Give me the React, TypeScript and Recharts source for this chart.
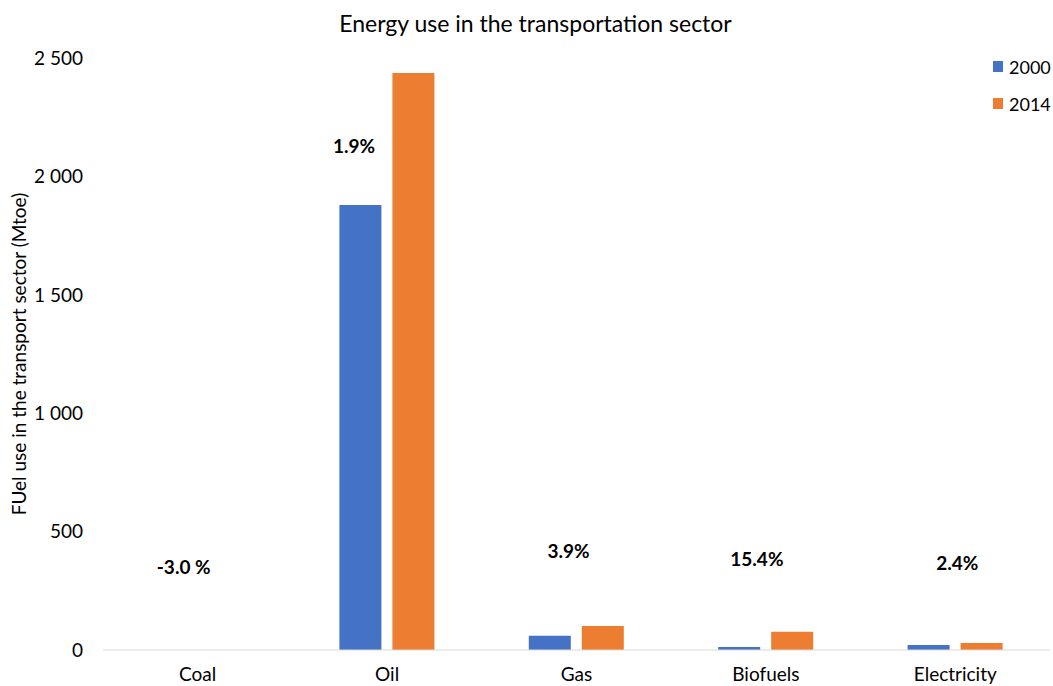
import React from "react";
import { BarChart, Bar, XAxis, YAxis, ReferenceDot, Label } from "recharts";

const categories = ["Coal", "Oil", "Gas", "Biofuels", "Electricity"];
const values2000 = [0, 1879, 60, 13, 21];
const values2014 = [0, 2437, 101, 77, 30];
const growthLabels = ["-3.0 %", "1.9%", "3.9%", "15.4%", "2.4%"];
const yTicks = [0, 500, 1000, 1500, 2000, 2500];

const data = categories.map((c, i) => ({ name: c, y2000: values2000[i], y2014: values2014[i] }));

// label anchors (layout only)
const labelY = [348, 2126, 418, 382, 367];
const labelDx = [-14, -33, -8, -9, 2];

const FONT = "Lato, 'Open Sans', sans-serif";

const fmt = (v: number) => String(v).replace(/\B(?=(\d{3})+(?!\d))/g, " ");

export default function App() {
  return (
    <div style={{ position: "fixed", left: 0, top: 0, width: 1053, height: 686, background: "#fff", fontFamily: FONT, overflow: "hidden" }}>
      <div
        style={{
          position: "absolute",
          top: 9,
          left: 0,
          width: 1053,
          paddingLeft: 18,
          boxSizing: "border-box",
          textAlign: "center",
          fontSize: 23,
          color: "#000",
          whiteSpace: "nowrap",
        }}
      >
        Energy use in the transportation sector
      </div>
      <div style={{ position: "absolute", left: 993, top: 48, width: 60, fontSize: 18, color: "#000", zIndex: 2, whiteSpace: "nowrap" }}>
        {[
          { label: "2000", color: "#4472C4" },
          { label: "2014", color: "#ED7D31" },
        ].map((it) => (
          <div key={it.label} style={{ display: "flex", alignItems: "center", height: 37 }}>
            <span style={{ width: 10, height: 11, background: it.color, display: "inline-block", marginRight: 6, flexShrink: 0 }} />
            <span>{it.label}</span>
          </div>
        ))}
      </div>
      <BarChart
        width={1053}
        height={686}
        data={data}
        margin={{ top: 58, right: 3, bottom: 0, left: 0 }}
        barCategoryGap={47}
        barGap={11}
      >
        <XAxis
          dataKey="name"
          height={36}
          tickLine={false}
          axisLine={{ stroke: "#d9d9d9" }}
          tick={{ fill: "#000", fontSize: 19, fontFamily: FONT }}
          tickMargin={12}
          interval={0}
        />
        <YAxis
          width={103}
          domain={[0, 2500]}
          ticks={yTicks}
          tickFormatter={fmt}
          axisLine={false}
          tickLine={false}
          tick={{ fill: "#000", fontSize: 19, fontFamily: FONT }}
          tickMargin={14}
        >
          <Label
            value="FUel use in the transport sector (Mtoe)"
            angle={-90}
            position="insideLeft"
            offset={19}
            style={{ fill: "#000", fontSize: 19, fontFamily: FONT, textAnchor: "middle" }}
          />
        </YAxis>
        <Bar dataKey="y2000" name="2000" fill="#4472C4" isAnimationActive={false} />
        <Bar dataKey="y2014" name="2014" fill="#ED7D31" isAnimationActive={false} />
        {categories.map((c, i) => (
          <ReferenceDot key={c} x={c} y={labelY[i]} r={0} stroke="none" fill="none" ifOverflow="visible">
            <Label
              value={growthLabels[i]}
              position="center"
              dx={labelDx[i]}
              style={{ fill: "#000", fontSize: 19, fontWeight: 700, fontFamily: FONT }}
            />
          </ReferenceDot>
        ))}
      </BarChart>
    </div>
  );
}
